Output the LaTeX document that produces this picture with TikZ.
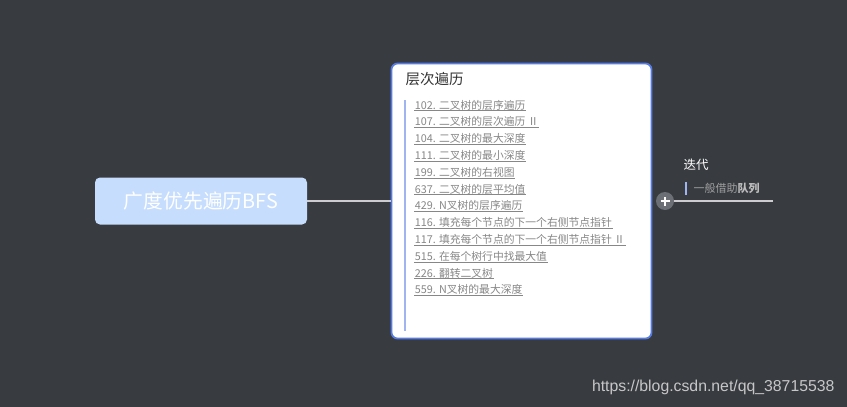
\documentclass[tikz,border=0pt]{standalone}
\usepackage{fontspec}
\setmainfont{Noto Sans CJK SC}
\newfontfamily\markfont{Liberation Sans}
\usepackage{tikz}
\usetikzlibrary{positioning}
\usepackage{xcolor}
\definecolor{bgdark}{RGB}{56,59,64}
\definecolor{rootblue}{RGB}{198,221,253}
\definecolor{frameblue}{RGB}{86,124,228}
\definecolor{barblue}{RGB}{160,180,240}
\definecolor{itemgray}{RGB}{135,135,135}
\definecolor{linkgray}{RGB}{205,205,208}
\definecolor{plusgray}{RGB}{108,111,117}

\tikzset{
  rootbox/.style={draw=none, fill=rootblue, rounded corners=5pt, text=white,
    minimum width=212pt, minimum height=47pt, font=\fontsize{19.8}{22}\selectfont},
  framebox/.style={draw=frameblue, line width=1.8pt, fill=white, rounded corners=6pt,
    minimum width=260pt, minimum height=275pt},
  item/.style={anchor=west, inner sep=0.6pt, text=itemgray, font=\fontsize{10.8}{12}\selectfont},
  link/.style={draw=linkgray, line width=1.2pt}
}

\begin{document}
\begin{tikzpicture}[x=1pt, y=-1pt]
\fill[bgdark] (0,0) rectangle (847,407);
\useasboundingbox (0,0) rectangle (847,407);

\node[rootbox] (root) at (201,201) {广度优先遍历BFS};
\node[framebox] (bfs) at (521.5,201) {};
\node[anchor=west, font=\fontsize{14.5}{16}\selectfont, text=black!80] (title) at (402,79) {层次遍历};

% vertical bar of the list
\coordinate (barTop) at (405,100);
\coordinate (barBot) at (405,331);
\draw[barblue, line width=1.6pt] (barTop) -- (barBot);

\foreach \t [count=\i] in {102. 二叉树的层序遍历, 107. 二叉树的层次遍历 Ⅱ, 104. 二叉树的最大深度,
  111. 二叉树的最小深度, 199. 二叉树的右视图, 637. 二叉树的层平均值, 429. N叉树的层序遍历,
  116. 填充每个节点的下一个右侧节点指针, 117. 填充每个节点的下一个右侧节点指针 Ⅱ,
  515. 在每个树行中找最大值, 226. 翻转二叉树, 559. N叉树的最大深度} {
  \node[item] (it\i) at (414,{105+16.8*(\i-1)}) {\t};
  \draw[itemgray, line width=0.7pt] (it\i.south west) -- (it\i.south east);
}

\draw[link] (root.east) -- (bfs.west);

% right branch
\coordinate (iterEnd) at (773,201);
\node[circle, fill=plusgray, minimum size=18pt, inner sep=0pt] (plus) at (665,201) {};
\draw[link] (plus.east) -- (iterEnd);
\draw[white, line width=1.5pt] ([xshift=-4.5pt]plus.center) -- ([xshift=4.5pt]plus.center)
  ([yshift=-4.5pt]plus.center) -- ([yshift=4.5pt]plus.center);
\node[anchor=west, text=white, font=\fontsize{12.5}{14}\selectfont] (iter) at (680,165) {迭代};
\node[anchor=west, text=itemgray!80, font=\fontsize{11}{13}\selectfont] (queue) at (690,188)
  {一般借助\textbf{\color{itemgray!55}队列}};
\draw[barblue, line width=1.6pt] ([xshift=-4pt]queue.west |- 0,182) -- ([xshift=-4pt]queue.west |- 0,195);

\node[anchor=east, text=black!22, font=\markfont\fontsize{15.8}{18}\selectfont] (mark) at (838,387)
  {https://blog.csdn.net/qq\_38715538};
\end{tikzpicture}
\end{document}
